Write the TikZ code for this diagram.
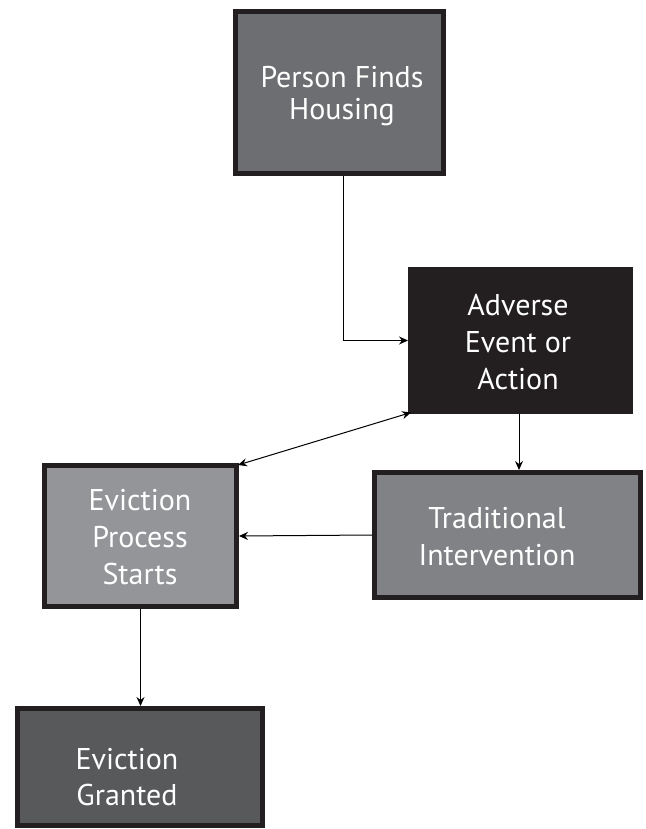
\documentclass[tikz,border=0pt]{standalone}
\usepackage{fontspec}
\setmainfont{PT Sans}
\usetikzlibrary{arrows.meta}
\definecolor{edge}{HTML}{231F20}
\definecolor{fpers}{HTML}{6D6E71}
\definecolor{ftrad}{HTML}{808285}
\definecolor{fproc}{HTML}{939598}
\definecolor{fgrant}{HTML}{58595B}
\tikzset{
  box/.style={rectangle, draw=edge, line width=5pt, inner sep=0pt},
  lbl/.style={text=white, align=center, font=\fontsize{30}{37}\selectfont, inner sep=0pt},
  arr/.style={draw=black, line width=1pt, -{Stealth[length=9pt,width=8pt,inset=3pt]}},
  darr/.style={draw=black, line width=1pt, {Stealth[length=9pt,width=8pt,inset=3pt]}-{Stealth[length=9pt,width=8pt,inset=3pt]}}
}
\begin{document}
\begin{tikzpicture}[x=1pt,y=-1pt]
\useasboundingbox (0,0) rectangle (645,829);
% boxes
\node[box, fill=fpers, minimum width=208pt, minimum height=162pt] (pers) at (339.5,92.5) {};
\node[rectangle, fill=edge, inner sep=0pt, outer sep=0pt, minimum width=225pt, minimum height=147pt] (adv) at (520.5,340.5) {};
\node[box, fill=ftrad, minimum width=266pt, minimum height=125pt] (trad) at (507.5,535) {};
\node[box, fill=fproc, minimum width=192pt, minimum height=141pt] (proc) at (140.5,536) {};
\node[box, fill=fgrant, minimum width=245pt, minimum height=117pt] (grant) at (140,767) {};
% labels
\node[lbl, font=\fontsize{30}{32}\selectfont] (tpers) at (342,96) {Person Finds\\Housing};
\node[lbl] (tadv) at (518,342) {Adverse\\Event or\\Action};
\node[lbl] (ttrad) at (497,537) {Traditional\\Intervention};
\node[lbl] (tproc) at (140,537) {Eviction\\Process\\Starts};
\node[lbl, font=\fontsize{30}{36}\selectfont] (tgrant) at (127,777) {Eviction\\Granted};
% connectors
\draw[arr] ([xshift=3.5pt]pers.south) |- (adv.west);
\draw[arr] ([xshift=-1.5pt]adv.south) -- ([xshift=11.5pt]trad.north);
\draw[arr] (trad.west) -- (proc.east);
\draw[darr] ([xshift=-1pt,yshift=-2pt]proc.north east) -- ([xshift=3pt,yshift=1.5pt]adv.south west);
\draw[arr] (proc.south) -- ([xshift=0.5pt]grant.north);
\end{tikzpicture}
\end{document}
